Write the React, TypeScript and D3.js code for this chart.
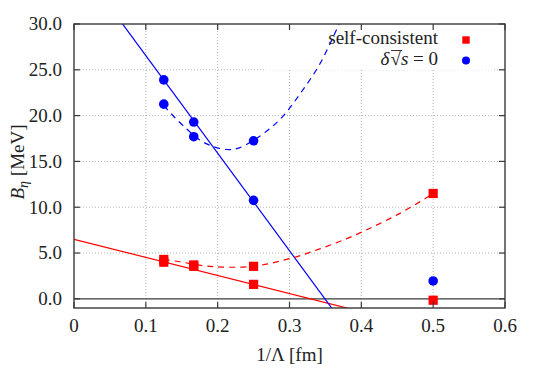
import React from 'react';
import * as d3 from 'd3';

// measured points (1/Lambda in fm, B_eta in MeV)
const selfConsX = [0.125, 0.125, 0.1667, 0.1667, 0.25, 0.25, 0.5, 0.5];
const selfConsY = [4.3, 4.0, 3.7, 3.55, 3.55, 1.58, 11.5, -0.15];
const deltaX = [0.125, 0.125, 0.1667, 0.1667, 0.25, 0.25, 0.5];
const deltaY = [23.9, 21.25, 19.3, 17.7, 17.25, 10.75, 1.95];

// linear fits (solid)
const redFitX = [0, 0.4];
const redFitY = [6.5, -1.4];
const blueFitX = [0, 0.4];
const blueFitY = [37.2, -5.4];

// quadratic-looking fits (dashed)
const redCurveX = [0.125, 0.143, 0.189, 0.249, 0.305, 0.342, 0.379, 0.416, 0.453, 0.49, 0.5];
const redCurveY = [4.3, 4.1, 3.55, 3.55, 4.5, 5.45, 6.55, 7.85, 9.3, 11.0, 11.5];
const blueCurveX = [0.125, 0.136, 0.152, 0.18, 0.212, 0.231, 0.268, 0.291, 0.314, 0.342, 0.369];
const blueCurveY = [21.1, 20.15, 18.9, 17.1, 16.3, 16.5, 18.3, 19.95, 22.3, 25.6, 30.0];

const xTicks = [0, 0.1, 0.2, 0.3, 0.4, 0.5, 0.6];
const xTickLabels = ['0', '0.1', '0.2', '0.3', '0.4', '0.5', '0.6'];
const yTicks = [0, 5, 10, 15, 20, 25, 30];
const yTickLabels = ['0.0', '5.0', '10.0', '15.0', '20.0', '25.0', '30.0'];

const W = 540, H = 369;
const margin = { left: 74, right: 35, top: 24, bottom: 61 };
const font = "'Liberation Serif', 'DejaVu Serif', serif";
const RED = '#ff0000', BLUE = '#0000ff', FRAME = '#3a3a3a', TXT = '#222';

export default function App() {
  const x = d3.scaleLinear().domain([0, 0.6]).range([margin.left, W - margin.right]);
  const y = d3.scaleLinear().domain([-1, 30]).range([H - margin.bottom, margin.top]);
  const [x0, x1] = x.range();
  const [y0, y1] = y.range(); // y0 bottom, y1 top

  const line = d3.line<[number, number]>().x(d => x(d[0])).y(d => y(d[1]));
  const curve = d3.line<[number, number]>().x(d => x(d[0])).y(d => y(d[1])).curve(d3.curveCatmullRom.alpha(0.5));
  const zip = (a: number[], b: number[]) => a.map((v, i) => [v, b[i]] as [number, number]);

  const ts = { fontFamily: font, fontSize: 19, fill: TXT };

  return (
    <svg width={W} height={H} style={{ position: 'absolute', left: 0, top: 0, background: '#fff' }}>
      <defs>
        <clipPath id="plot">
          <rect x={x0} y={y1} width={x1 - x0} height={y0 - y1} />
        </clipPath>
      </defs>

      {/* grid */}
      <g stroke="#b4b4b4" strokeWidth={1} strokeDasharray="1,2">
        {xTicks.slice(1, -1).map(t => (
          <line key={'gx' + t} x1={x(t)} x2={x(t)} y1={y0} y2={y1} />
        ))}
        {yTicks.slice(1, -1).map(t => (
          <line key={'gy' + t} x1={x0} x2={x1} y1={y(t)} y2={y(t)} />
        ))}
      </g>
      {/* key area blanks the grid */}
      <rect x={265} y={y1} width={228} height={46} fill="#fff" />

      {/* zero axis */}
      <line x1={x0} x2={x1} y1={y(0)} y2={y(0)} stroke={FRAME} strokeWidth={1.3} />

      <g clipPath="url(#plot)" fill="none" strokeWidth={1.2}>
        <path d={line(zip(redFitX, redFitY)) || ''} stroke={RED} />
        <path d={line(zip(blueFitX, blueFitY)) || ''} stroke={BLUE} />
        <path d={curve(zip(redCurveX, redCurveY)) || ''} stroke={RED} strokeDasharray="6,5" />
        <path d={curve(zip(blueCurveX, blueCurveY)) || ''} stroke={BLUE} strokeDasharray="6,5" />
      </g>

      {selfConsX.map((v, i) => (
        <rect key={'s' + i} x={x(v) - 4.6} y={y(selfConsY[i]) - 4.6} width={9.2} height={9.2} fill={RED} />
      ))}
      {deltaX.map((v, i) => (
        <circle key={'c' + i} cx={x(v)} cy={y(deltaY[i])} r={4.8} fill={BLUE} />
      ))}

      {/* frame */}
      <rect x={x0} y={y1} width={x1 - x0} height={y0 - y1} fill="none" stroke={FRAME} strokeWidth={1.4} />
      <g stroke={FRAME} strokeWidth={1.2}>
        {xTicks.map(t => (
          <g key={'tx' + t}>
            <line x1={x(t)} x2={x(t)} y1={y0} y2={y0 - 6} />
            <line x1={x(t)} x2={x(t)} y1={y1} y2={y1 + 6} />
          </g>
        ))}
        {yTicks.map(t => (
          <g key={'ty' + t}>
            <line x1={x0} x2={x0 + 6} y1={y(t)} y2={y(t)} />
            <line x1={x1} x2={x1 - 6} y1={y(t)} y2={y(t)} />
          </g>
        ))}
      </g>

      {/* tick labels */}
      {xTicks.map((t, i) => (
        <text key={'lx' + t} x={x(t)} y={332} textAnchor="middle" style={ts}>{xTickLabels[i]}</text>
      ))}
      {yTicks.map((t, i) => (
        <text key={'ly' + t} x={62} y={y(t) + 6.3} textAnchor="end" style={ts}>{yTickLabels[i]}</text>
      ))}

      {/* axis titles */}
      <text x={(x0 + x1) / 2} y={361} textAnchor="middle" style={ts}>1/Λ [fm]</text>
      <text transform={`translate(24,${(y0 + y1) / 2 - 4}) rotate(-90)`} textAnchor="middle" style={ts}>
        <tspan fontStyle="italic">B</tspan>
        <tspan fontStyle="italic" fontSize={14} dy={4}>η</tspan>
        <tspan dy={-4}> [MeV]</tspan>
      </text>

      {/* key */}
      <text x={438} y={44} textAnchor="end" style={ts}>self-consistent</text>
      <rect x={462.3} y={36.3} width={7.4} height={7.4} fill={RED} />
      <text x={438} y={65} textAnchor="end" style={ts}>
        <tspan fontStyle="italic">δ</tspan>
        <tspan dx={1}>√</tspan>
        <tspan fontStyle="italic">s</tspan>
        <tspan> = 0</tspan>
      </text>
      <line x1={391} x2={402} y1={50.5} y2={50.5} stroke={TXT} strokeWidth={0.9} />
      <circle cx={466} cy={60.5} r={4} fill={BLUE} />
    </svg>
  );
}
